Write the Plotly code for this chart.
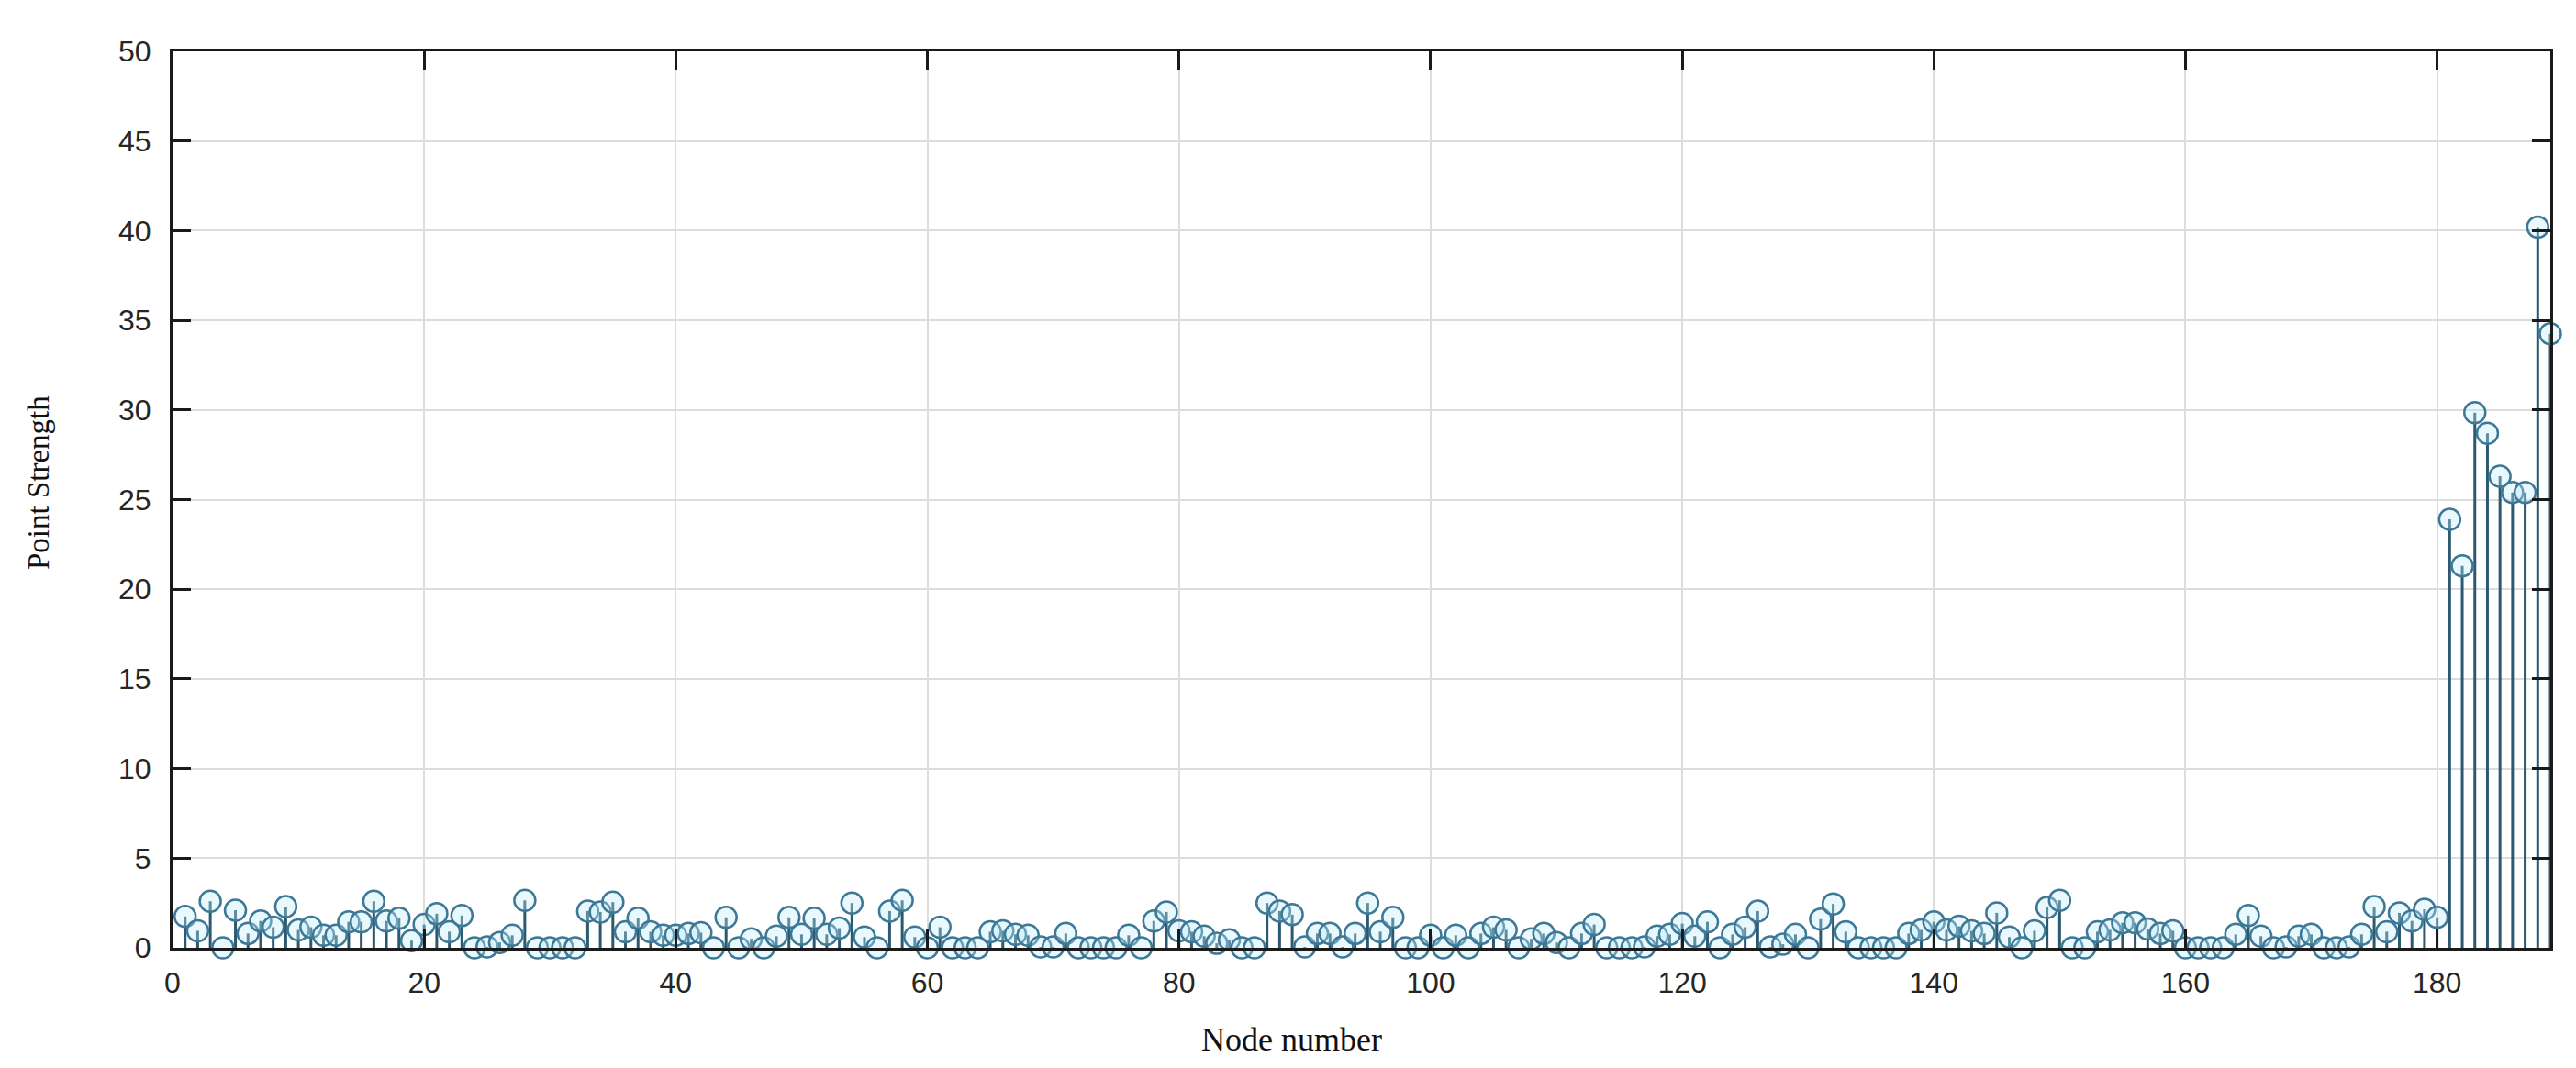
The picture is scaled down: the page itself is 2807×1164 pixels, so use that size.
import plotly.graph_objects as go

# node index and the point strength
node = list(range(1, 190))
strength = [
    1.75, 0.95, 2.6, 0.0, 2.1, 0.8, 1.5, 1.15, 2.3, 1.0,
    1.15, 0.7, 0.7, 1.45, 1.45, 2.6, 1.5, 1.65, 0.4, 1.3,
    1.9, 0.9, 1.8, 0.0, 0.05, 0.3, 0.7, 2.65, 0.0, 0.0,
    0.0, 0.0, 2.05, 2.0, 2.55, 0.9, 1.65, 0.9, 0.7, 0.7,
    0.8, 0.85, 0.0, 1.7, 0.0, 0.5, 0.0, 0.65, 1.7, 0.75,
    1.65, 0.75, 1.1, 2.5, 0.6, 0.0, 2.05, 2.65, 0.6, 0.0,
    1.15, 0.0, 0.0, 0.0, 0.9, 0.95, 0.75, 0.7, 0.05, 0.05,
    0.8, 0.0, 0.0, 0.0, 0.0, 0.7, 0.0, 1.5, 2.0, 0.95,
    0.9, 0.65, 0.25, 0.45, 0.0, 0.0, 2.5, 2.05, 1.85, 0.05,
    0.8, 0.8, 0.05, 0.8, 2.5, 0.9, 1.7, 0.0, 0.0, 0.7,
    0.0, 0.7, 0.0, 0.8, 1.15, 1.0, 0.0, 0.5, 0.8, 0.3,
    0.0, 0.8, 1.3, 0.0, 0.0, 0.0, 0.05, 0.65, 0.75, 1.35,
    0.65, 1.45, 0.0, 0.75, 1.15, 2.05, 0.05, 0.2, 0.75, 0.0,
    1.6, 2.45, 0.9, 0.0, 0.0, 0.0, 0.0, 0.8, 1.0, 1.45,
    1.0, 1.2, 0.95, 0.8, 1.95, 0.6, 0.0, 0.95, 2.25, 2.65,
    0.0, 0.0, 0.9, 1.0, 1.4, 1.4, 1.05, 0.8, 0.95, 0.0,
    0.0, 0.0, 0.0, 0.75, 1.8, 0.65, 0.0, 0.05, 0.65, 0.75,
    0.0, 0.0, 0.05, 0.75, 2.3, 0.9, 1.95, 1.5, 2.15, 1.7,
    23.9, 21.3, 29.85, 28.7, 26.3, 25.4, 25.4, 40.2, 34.25,
]

x_ticks = [0, 20, 40, 60, 80, 100, 120, 140, 160, 180]
y_ticks = [0, 5, 10, 15, 20, 25, 30, 35, 40, 45, 50]

# stems: one line segment per node, separated by None
stem_x, stem_y = [], []
for n, v in zip(node, strength):
    stem_x += [n, n, None]
    stem_y += [0, v, None]

fig = go.Figure()
fig.add_trace(go.Scatter(x=stem_x, y=stem_y, mode='lines',
                         line=dict(color='#2b5a70', width=3),
                         hoverinfo='skip', showlegend=False))
fig.add_trace(go.Scatter(x=node, y=strength, mode='markers',
                         marker=dict(symbol='circle', size=23,
                                     color='rgba(190,235,250,0.35)',
                                     line=dict(color='#3d7896', width=2.5)),
                         cliponaxis=False, showlegend=False))

axis_common = dict(showline=True, linecolor='#1a1a1a', linewidth=3,
                   mirror='ticks', ticks='inside', ticklen=20, tickwidth=2.5,
                   tickcolor='#1a1a1a', showgrid=True, gridcolor='#dcdcdc',
                   gridwidth=2, zeroline=False,
                   tickfont=dict(family='Liberation Sans', size=32, color='#262626'))

fig.update_xaxes(range=[0, 189], tickvals=x_ticks, ticklabelstandoff=8, **axis_common)
fig.update_yaxes(range=[0, 50], tickvals=y_ticks, ticklabelstandoff=14, **axis_common)

# axis titles placed like the original
fig.add_annotation(text='Node number', xref='paper', yref='paper',
                   x=0.4705, y=-0.102, xanchor='center', yanchor='middle',
                   showarrow=False,
                   font=dict(family='Liberation Serif', size=36, color='#111111'))
fig.add_annotation(text='Point Strength', xref='paper', yref='paper',
                   x=-0.0563, y=0.519, xanchor='center', yanchor='middle',
                   textangle=-90, showarrow=False,
                   font=dict(family='Liberation Serif', size=33, color='#111111'))

fig.update_layout(width=2807, height=1164,
                  margin=dict(l=180, r=36, t=48, b=139),
                  plot_bgcolor='white', paper_bgcolor='white')

fig.write_html("out.html")
